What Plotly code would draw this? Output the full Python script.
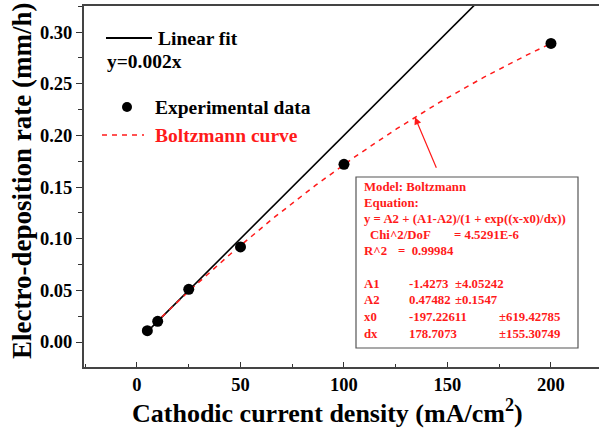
import numpy as np
import plotly.graph_objects as go

# ---- data ----
current_density = [5, 10, 25, 50, 100, 200]
deposition_rate = [0.011, 0.020, 0.051, 0.092, 0.172, 0.289]

linear_slope = 0.002
linear_x = [5, 170]

# Boltzmann fit parameters (as printed in the chart)
A1 = -1.4273
A2 = 0.47482
X0 = -197.22611
DX = 178.7073
boltz_x = np.linspace(5, 200, 200)
boltz_y = A2 + (A1 - A2) / (1 + np.exp((boltz_x - X0) / DX))

x_ticks = [0, 50, 100, 150, 200]
y_ticks = [0.00, 0.05, 0.10, 0.15, 0.20, 0.25, 0.30]

W, H = 599, 431
L, R, T, B = 84, 0, 6, 64
PW, PH = W - L - R, H - T - B

def px(x):
    return (x - L) / PW

def py(y):
    return (H - B - y) / PH

FONT = "Liberation Serif, Times New Roman, serif"
RED = "#ff1a1a"

fig = go.Figure()
fig.add_trace(go.Scatter(x=linear_x, y=[linear_slope * v for v in linear_x],
                         mode="lines", line=dict(color="black", width=1.6),
                         showlegend=False, hoverinfo="skip"))
fig.add_trace(go.Scatter(x=boltz_x, y=boltz_y, mode="lines",
                         line=dict(color=RED, width=1.5, dash="5px,5px"),
                         showlegend=False))
fig.add_trace(go.Scatter(x=current_density, y=deposition_rate, mode="markers",
                         marker=dict(color="black", size=11),
                         showlegend=False))

shapes = []
annotations = []

LF = dict(family=FONT, size=19.5, color="black", weight="bold")
# legend (manual)
shapes.append(dict(type="line", xref="paper", yref="paper",
                   x0=px(106), x1=px(152), y0=py(38), y1=py(38),
                   line=dict(color="black", width=1.8)))
annotations.append(dict(xref="paper", yref="paper", x=px(156), y=py(38),
                        text="Linear fit", showarrow=False, xanchor="left", yanchor="middle",
                        font=LF))
annotations.append(dict(xref="paper", yref="paper", x=px(105), y=py(62),
                        text="y=0.002x", showarrow=False, xanchor="left", yanchor="middle",
                        font=LF))
shapes.append(dict(type="circle", xref="paper", yref="paper",
                   x0=px(122), x1=px(132), y0=py(102), y1=py(112),
                   fillcolor="black", line=dict(color="black", width=0)))
annotations.append(dict(xref="paper", yref="paper", x=px(153), y=py(107),
                        text="Experimental data", showarrow=False, xanchor="left", yanchor="middle",
                        font=LF))
shapes.append(dict(type="line", xref="paper", yref="paper",
                   x0=px(102), x1=px(144), y0=py(135), y1=py(135),
                   line=dict(color=RED, width=1.5, dash="5px,5px")))
annotations.append(dict(xref="paper", yref="paper", x=px(153), y=py(135),
                        text="Boltzmann curve", showarrow=False, xanchor="left", yanchor="middle",
                        font=dict(LF, color=RED)))

# result box
shapes.append(dict(type="rect", xref="paper", yref="paper",
                   x0=px(356), x1=px(578), y0=py(348), y1=py(177),
                   line=dict(color="#555555", width=1.2), fillcolor="white", layer="above"))
bf = dict(family=FONT, size=12.8, color=RED, weight="bold")
box_lines = [
    (362, 187, "Model: Boltzmann"),
    (362, 203, "Equation:"),
    (362, 219, "y = A2 + (A1-A2)/(1 + exp((x-x0)/dx))"),
    (368, 235, "Chi^2/DoF"),
    (452, 235, "= 4.5291E-6"),
    (362, 251, "R^2"),
    (396, 251, "=  0.99984"),
    (362, 284, "A1"), (407, 284, "-1.4273"), (453, 284, "±4.05242"),
    (362, 300, "A2"), (407, 300, "0.47482"), (453, 300, "±0.1547"),
    (362, 317, "x0"), (407, 317, "-197.22611"), (497, 317, "±619.42785"),
    (362, 334, "dx"), (407, 334, "178.7073"), (497, 334, "±155.30749"),
]
for x, y, t in box_lines:
    annotations.append(dict(xref="paper", yref="paper", x=px(x), y=py(y), text=t,
                            showarrow=False, xanchor="left", yanchor="middle", font=bf))

# arrow pointing to curve
ax_x = 134.3
annotations.append(dict(x=ax_x, y=float(A2 + (A1 - A2) / (1 + np.exp((ax_x - X0) / DX))),
                        xref="x", yref="y", text="", showarrow=True,
                        arrowhead=2, arrowsize=1.2, arrowwidth=1.2, arrowcolor=RED,
                        ax=22, ay=52))

# axis titles (placed as annotations)
annotations.append(dict(xref="paper", yref="paper", x=px(327), y=py(412),
                        text="Cathodic current density (mA/cm<sup>2</sup>)",
                        showarrow=False, xanchor="center", yanchor="middle",
                        font=dict(family=FONT, size=26, color="black", weight="bold")))
annotations.append(dict(xref="paper", yref="paper", x=px(22), y=py(181),
                        text="Electro-deposition rate (mm/h)", textangle=-90,
                        showarrow=False, xanchor="center", yanchor="middle",
                        font=dict(family=FONT, size=27, color="black", weight="bold")))

fig.update_layout(
    width=W, height=H,
    margin=dict(l=L, r=R, t=T, b=B, autoexpand=False),
    plot_bgcolor="white", paper_bgcolor="white",
    shapes=shapes, annotations=annotations,
    xaxis=dict(range=[-25.6, 223.2], tickvals=x_ticks, ticks="inside", ticklen=5,
               tickwidth=1.2, tickcolor="#333", automargin=False,
               minor=dict(dtick=25, ticks="inside", ticklen=3, tickcolor="#333"),
               showline=True, linecolor="#444", linewidth=2, mirror=True,
               showgrid=False, zeroline=False,
               tickfont=dict(family=FONT, size=18.5, color="black", weight="bold")),
    yaxis=dict(range=[-0.0242, 0.3252], tickvals=y_ticks, tickformat=".2f",
               ticks="outside", ticklen=6, tickwidth=1.2, tickcolor="#333", automargin=False,
               minor=dict(dtick=0.025, ticks="outside", ticklen=4, tickcolor="#333"),
               showline=True, linecolor="#444", linewidth=2, mirror=False,
               showgrid=False, zeroline=False,
               tickfont=dict(family=FONT, size=18.5, color="black", weight="bold")),
)

fig.write_html("out.html", config={"displayModeBar": False},
               post_script="document.body.style.margin='0';")
